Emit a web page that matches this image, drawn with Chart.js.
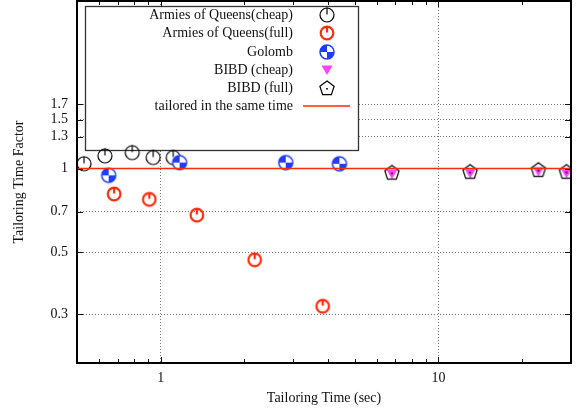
<!DOCTYPE html>
<html>
<head>
<meta charset="utf-8">
<script src="https://cdn.jsdelivr.net/npm/chart.js@4.4.0/dist/chart.umd.min.js"></script>
<style>
  body { margin: 0; background: #fff; }
  canvas { display: block; }
</style>
</head>
<body>
<canvas id="timeChart" width="584" height="414"></canvas>
<script>
// ---------------- data ----------------
const aqCheapX = [0.53, 0.63, 0.79, 0.94, 1.11];
const aqCheapY = [1.04, 1.11, 1.14, 1.095, 1.095];

const aqFullX = [0.68, 0.91, 1.35, 2.18, 3.83];
const aqFullY = [0.81, 0.775, 0.68, 0.47, 0.32];

const golombX = [0.65, 1.17, 2.82, 4.4];
const golombY = [0.945, 1.05, 1.05, 1.04];

const bibdX = [6.8, 13.0, 22.9, 28.9];
const bibdCheapY = [0.955, 0.96, 0.975, 0.96];
const bibdFullY = [0.968, 0.975, 0.99, 0.975];

const sameTimeX = [0.5, 30];
const sameTimeY = [1, 1];

const xTicks = [0.6, 0.7, 0.8, 0.9, 1, 2, 3, 4, 5, 6, 7, 8, 9, 10, 20, 30];
const xLabels = [1, 10];
const yTicks = [0.3, 0.5, 0.7, 1, 1.3, 1.5, 1.7];

const legendLabels = [
	'Armies of Queens(cheap)',
	'Armies of Queens(full)',
	'Golomb',
	'BIBD (cheap)',
	'BIBD (full)',
	'tailored in the same time'
];

const RED = '#ff2a0a';
const BLUE = '#1f3cff';
const MAGENTA = '#ff40ff';
const FONT = '"Liberation Serif", "Times New Roman", serif';

function pts(xs, ys) {
	return xs.map(function(x, i) { return { x: x, y: ys[i] }; });
}

// ---------------- point symbols (gnuplot look) ----------------
function symbol(drawFn) {
	const c = document.createElement('canvas');
	c.width = 20; c.height = 20;
	const g = c.getContext('2d');
	g.translate(10, 10);
	drawFn(g);
	return c;
}

const symCheap = symbol(function(g) {
	g.strokeStyle = '#000'; g.lineWidth = 1.2;
	g.beginPath(); g.arc(0, 0, 7, 0, Math.PI * 2); g.stroke();
	g.beginPath(); g.moveTo(0, -7.5); g.lineTo(0, -0.5); g.stroke();
});

const symFull = symbol(function(g) {
	g.strokeStyle = RED; g.lineWidth = 2.2;
	g.beginPath(); g.arc(0, 0, 6.3, 0, Math.PI * 2); g.stroke();
	g.beginPath(); g.moveTo(0, -7); g.lineTo(0, -0.5); g.stroke();
});

const symGolomb = symbol(function(g) {
	g.fillStyle = '#fff';
	g.beginPath(); g.arc(0, 0, 7, 0, Math.PI * 2); g.fill();
	g.fillStyle = BLUE;
	g.beginPath(); g.moveTo(0, 0); g.arc(0, 0, 7, Math.PI, Math.PI * 1.5); g.closePath(); g.fill();
	g.beginPath(); g.moveTo(0, 0); g.arc(0, 0, 7, 0, Math.PI * 0.5); g.closePath(); g.fill();
	g.strokeStyle = BLUE; g.lineWidth = 1.5;
	g.beginPath(); g.arc(0, 0, 7, 0, Math.PI * 2); g.stroke();
});

const symTri = symbol(function(g) {
	g.fillStyle = MAGENTA;
	g.beginPath(); g.moveTo(-5.5, -4.5); g.lineTo(5.5, -4.5); g.lineTo(0, 5); g.closePath(); g.fill();
});

const symPent = symbol(function(g) {
	g.strokeStyle = '#000'; g.lineWidth = 1.2;
	g.beginPath();
	for (let k = 0; k < 5; k++) {
		const a = -Math.PI / 2 + k * 2 * Math.PI / 5;
		const px = 7.5 * Math.cos(a), py = 7.5 * Math.sin(a) + 0.5;
		if (k === 0) g.moveTo(px, py); else g.lineTo(px, py);
	}
	g.closePath(); g.stroke();
	g.fillStyle = '#000';
	g.fillRect(-0.8, 0, 1.6, 1.6);
});

// ---------------- plugin: frame, inward ticks, legend box, axis titles ----------------
const gnuplotDeco = {
	id: 'gnuplotDeco',
	beforeDatasetsDraw(chart) {
		const ctx = chart.ctx;
		// key box, opaque
		const bx = 85, by = 6, bw = 273, bh = 144;
		ctx.save();
		ctx.fillStyle = '#fff';
		ctx.fillRect(bx, by, bw, bh);
		ctx.strokeStyle = '#333';
		ctx.lineWidth = 1.3;
		ctx.strokeRect(bx + 0.5, by + 0.5, bw, bh);
		ctx.fillStyle = '#111';
		ctx.font = '14px ' + FONT;
		ctx.textAlign = 'right';
		ctx.textBaseline = 'middle';
		const rowsY = [15, 33, 52, 70, 88, 106];
		const syms = [symCheap, symFull, symGolomb, symTri, symPent];
		legendLabels.forEach(function(t, i) {
			ctx.fillText(t, 293, rowsY[i]);
			if (i < syms.length) {
				ctx.drawImage(syms[i], 327 - 10, rowsY[i] - 10);
			} else {
				ctx.strokeStyle = RED; ctx.lineWidth = 1.5;
				ctx.beginPath(); ctx.moveTo(303, rowsY[i]); ctx.lineTo(350, rowsY[i]); ctx.stroke();
			}
		});
		ctx.restore();
	},
	afterDraw(chart) {
		const ctx = chart.ctx;
		const a = chart.chartArea;
		const xs = chart.scales.x, ys = chart.scales.y;
		ctx.save();
		ctx.strokeStyle = '#111';
		ctx.lineWidth = 1;
		xTicks.forEach(function(v) {
			const px = Math.round(xs.getPixelForValue(v)) + 0.5;
			const len = xLabels.includes(v) ? 6 : 4;
			ctx.beginPath();
			ctx.moveTo(px, a.bottom); ctx.lineTo(px, a.bottom - len);
			ctx.moveTo(px, a.top); ctx.lineTo(px, a.top + len);
			ctx.stroke();
		});
		yTicks.forEach(function(v) {
			const py = Math.round(ys.getPixelForValue(v)) + 0.5;
			ctx.beginPath();
			ctx.moveTo(a.left, py); ctx.lineTo(a.left + 6, py);
			ctx.moveTo(a.right, py); ctx.lineTo(a.right - 6, py);
			ctx.stroke();
		});
		// frame
		ctx.lineWidth = 2;
		ctx.strokeStyle = '#000';
		ctx.strokeRect(a.left, a.top, a.right - a.left, a.bottom - a.top);
		// axis titles
		ctx.fillStyle = '#111';
		ctx.font = '14px ' + FONT;
		ctx.textAlign = 'center';
		ctx.textBaseline = 'middle';
		ctx.fillText('Tailoring Time (sec)', 324, 398);
		ctx.translate(19, 182);
		ctx.rotate(-Math.PI / 2);
		ctx.fillText('Tailoring Time Factor', 0, 0);
		ctx.restore();
	}
};

const ctx = document.querySelector('#timeChart').getContext('2d');

const plot = new Chart(ctx, {
	type: 'scatter',
	data: {
		datasets: [
			{ label: legendLabels[0], data: pts(aqCheapX, aqCheapY), pointStyle: symCheap, order: 5 },
			{ label: legendLabels[1], data: pts(aqFullX, aqFullY), pointStyle: symFull, order: 4 },
			{ label: legendLabels[2], data: pts(golombX, golombY), pointStyle: symGolomb, order: 3 },
			{ label: legendLabels[3], data: pts(bibdX, bibdCheapY), pointStyle: symTri, order: 2 },
			{ label: legendLabels[4], data: pts(bibdX, bibdFullY), pointStyle: symPent, order: 1 },
			{
				label: legendLabels[5],
				type: 'line',
				data: pts(sameTimeX, sameTimeY),
				borderColor: RED,
				borderWidth: 1.5,
				pointRadius: 0,
				order: 0
			}
		]
	},
	options: {
		responsive: false,
		animation: false,
		layout: { autoPadding: false, padding: { top: 1, right: 13, left: 0, bottom: 0 } },
		plugins: {
			legend: { display: false },
			tooltip: { enabled: false }
		},
		scales: {
			x: {
				type: 'logarithmic',
				min: 0.5,
				max: 30,
				afterBuildTicks: function(s) { s.ticks = xTicks.map(function(v) { return { value: v }; }); },
				afterFit: function(s) {
					s.height = 51;
					s.paddingLeft = 0; s.paddingRight = 0;
				},
				border: { display: false, dash: [1, 2] },
				grid: {
					drawTicks: false,
					color: function(c) { return xLabels.includes(c.tick && c.tick.value) ? '#777' : 'rgba(0,0,0,0)'; },
					lineWidth: 1
				},
				ticks: {
					padding: 7,
					autoSkip: false,
					maxRotation: 0,
					color: '#111',
					font: { family: FONT, size: 14 },
					callback: function(v) { return xLabels.includes(v) ? String(v) : ''; }
				}
			},
			y: {
				type: 'logarithmic',
				min: 0.2,
				max: 4,
				afterBuildTicks: function(s) { s.ticks = yTicks.map(function(v) { return { value: v }; }); },
				afterFit: function(s) {
					s.width = 77;
					s.paddingTop = 0; s.paddingBottom = 0;
				},
				border: { display: false, dash: [1, 2] },
				grid: { drawTicks: false, color: '#777', lineWidth: 1 },
				ticks: {
					padding: 9,
					autoSkip: false,
					color: '#111',
					font: { family: FONT, size: 14 },
					callback: function(v) { return String(v); }
				}
			}
		}
	},
	plugins: [gnuplotDeco]
});
</script>
</body>
</html>
